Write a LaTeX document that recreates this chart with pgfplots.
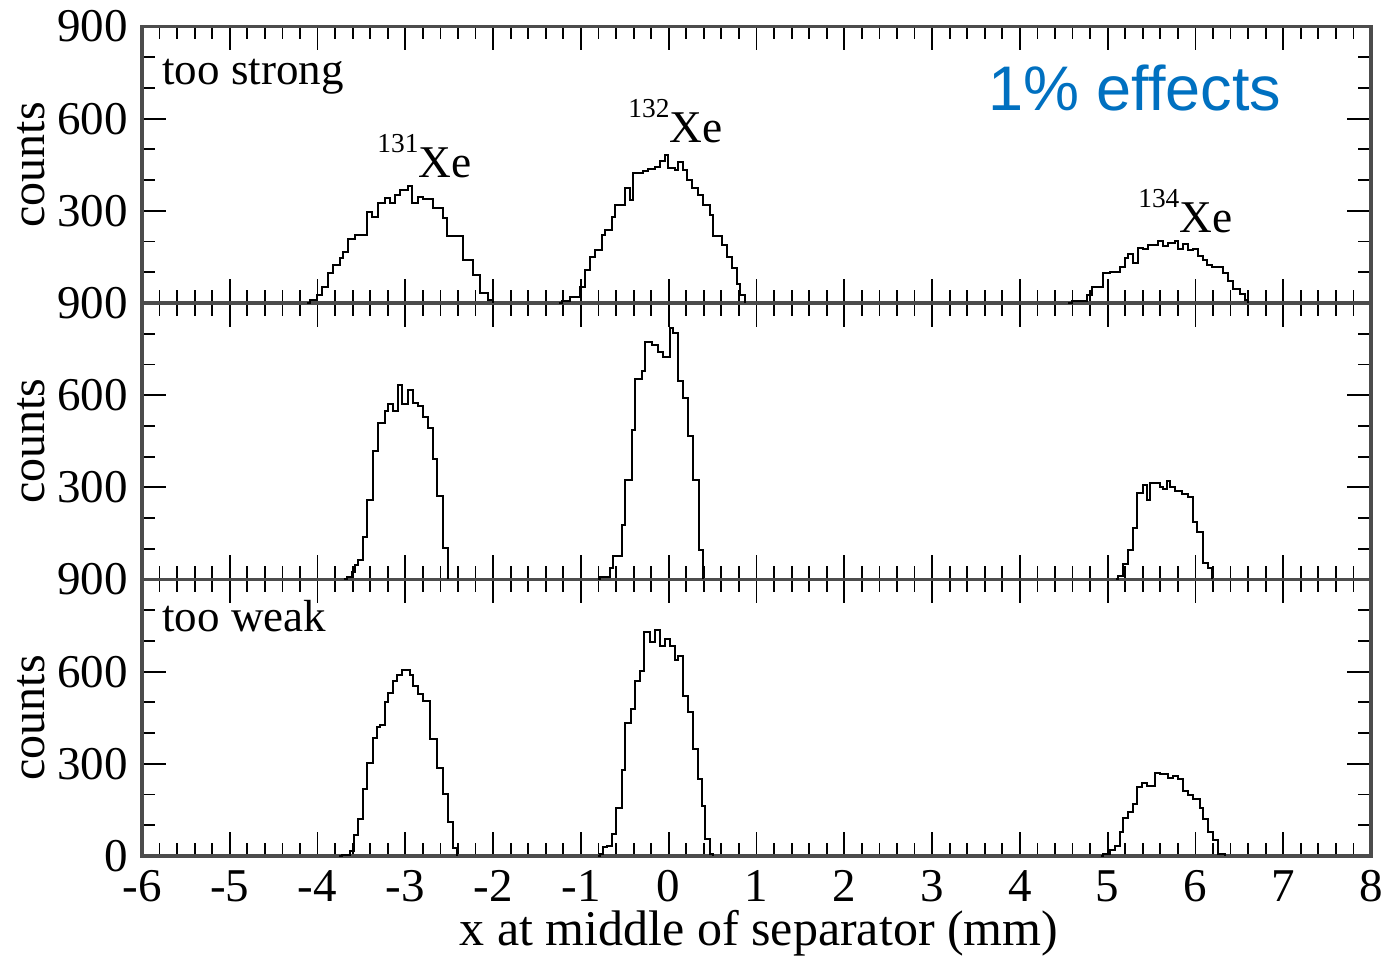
\documentclass[border=0pt]{standalone}
\usepackage{fontspec}
\setmainfont{Liberation Serif}
\newfontfamily\sansfont{Liberation Sans}
\usepackage{pgfplots}
\pgfplotsset{compat=1.18}
\definecolor{effblue}{RGB}{0,112,192}
\newcommand{\tickfont}{\fontsize{23.5}{26}\selectfont}
\newcommand{\labfont}{\fontsize{22.5}{26}\selectfont}
\newcommand{\iso}[1]{{\fontsize{13.7}{15}\selectfont\raisebox{12.5pt}{#1}}{\fontsize{22.7}{26}\selectfont Xe}}
\pgfplotsset{
  panel/.style={
    scale only axis, width=614.5pt, height=138.25pt,
    xmin=-6, xmax=8, ymin=0, ymax=900,
    xtick={-6,-5,-4,-3,-2,-1,0,1,2,3,4,5,6,7,8},
    minor x tick num=4,
    ytick={0,300,600,900}, minor y tick num=2,
    tick align=inside, major tick length=12pt, minor tick length=6.5pt,
    tick style={black, line width=0.9pt},
    axis line style={black!70, line width=1.7pt},
    tick label style={font=\tickfont},
    yticklabel style={anchor=east, inner sep=0pt, xshift=-7pt},
    xticklabel style={anchor=base, inner sep=0pt, yshift=-23pt},
    ylabel={counts},
    every axis y label/.style={at={(axis description cs:-0.0903,0.5)}, rotate=90, anchor=center, font=\fontsize{24}{26}\selectfont},
    clip=false,
  },
  hist/.style={const plot mark left, black, line width=1pt, mark=none},
}
\begin{document}
\begin{tikzpicture}
% ---------------- bottom panel: too weak
\begin{axis}[panel, at={(0pt,0pt)}, anchor=south west,
  xticklabels={-6,-5,-4,-3,-2,-1,0,1,2,3,4,5,6,7,8},
  yticklabels={0,300,600,900},
  xlabel={x at middle of separator (mm)},
  every axis x label/.style={at={(axis description cs:0.502,0)}, anchor=base, inner sep=0pt, yshift=-45pt, font=\fontsize{25}{28}\selectfont}]
\addplot[hist] coordinates {(-3.76,0) (-3.726,3) (-3.631,17) (-3.585,67) (-3.536,120) (-3.479,217) (-3.433,303) (-3.373,385) (-3.327,419) (-3.289,427) (-3.232,500) (-3.194,531) (-3.145,569) (-3.099,590) (-3.042,605) (-2.947,590) (-2.909,554) (-2.852,528) (-2.795,505) (-2.719,382) (-2.643,286) (-2.567,202) (-2.511,112) (-2.454,26) (-2.416,0)};
\addplot[hist] coordinates {(-0.80,0) (-0.783,6) (-0.745,28) (-0.707,34) (-0.650,73) (-0.601,157) (-0.536,281) (-0.498,432) (-0.430,480) (-0.384,569) (-0.327,601) (-0.278,730) (-0.213,696) (-0.156,737) (-0.099,685) (-0.042,707) (0.014,685) (0.071,637) (0.109,651) (0.166,522) (0.223,468) (0.280,348) (0.337,250) (0.375,163) (0.413,56) (0.470,6) (0.508,0)};
\addplot[hist] coordinates {(4.92,0) (4.951,7) (5.027,20) (5.083,33) (5.140,79) (5.178,124) (5.235,144) (5.292,170) (5.338,223) (5.387,236) (5.444,229) (5.539,271) (5.596,266) (5.691,253) (5.748,262) (5.805,249) (5.862,210) (5.919,197) (5.976,187) (6.052,157) (6.090,122) (6.147,79) (6.204,52) (6.261,7) (6.337,0)};
\node[anchor=base west, inner sep=0pt, font=\labfont] at (axis cs:-5.772,730) {too weak};
\end{axis}
% ---------------- middle panel
\begin{axis}[panel, at={(0pt,138.25pt)}, anchor=south west,
  xticklabels={}, yticklabels={,300,600,900}]
\addplot[hist] coordinates {(-3.70,0) (-3.669,8) (-3.612,25) (-3.574,47) (-3.536,64) (-3.479,139) (-3.433,258) (-3.365,417) (-3.308,510) (-3.232,549) (-3.194,571) (-3.137,549) (-3.080,632) (-3.042,571) (-2.966,618) (-2.909,573) (-2.852,564) (-2.795,529) (-2.738,493) (-2.681,392) (-2.643,271) (-2.575,101) (-2.511,0)};
\addplot[hist] coordinates {(-0.80,0) (-0.783,8) (-0.669,36) (-0.631,75) (-0.536,178) (-0.498,325) (-0.422,486) (-0.384,652) (-0.308,680) (-0.270,773) (-0.194,764) (-0.118,741) (-0.061,725) (0.014,820) (0.052,803) (0.109,646) (0.166,590) (0.223,467) (0.280,325) (0.349,97) (0.394,0)};
\addplot[hist] coordinates {(5.10,0) (5.121,11) (5.178,50) (5.235,96) (5.292,168) (5.338,280) (5.406,306) (5.452,258) (5.482,313) (5.596,300) (5.634,293) (5.680,320) (5.710,300) (5.767,289) (5.843,278) (5.919,267) (5.976,188) (6.021,155) (6.082,53) (6.147,37) (6.185,0)};
\end{axis}
% ---------------- top panel: too strong
\begin{axis}[panel, at={(0pt,276.5pt)}, anchor=south west,
  xticklabels={}, yticklabels={,300,600,900}]
\addplot[hist] coordinates {(-4.12,0) (-4.086,10) (-4.010,26) (-3.953,53) (-3.878,97) (-3.821,124) (-3.745,146) (-3.707,167) (-3.650,207) (-3.574,221) (-3.441,297) (-3.384,281) (-3.308,324) (-3.232,341) (-3.175,325) (-3.118,352) (-3.061,368) (-2.966,381) (-2.928,326) (-2.853,346) (-2.796,338) (-2.682,308) (-2.568,277) (-2.529,218) (-2.340,140) (-2.226,91) (-2.150,32) (-2.055,10) (-1.998,0)};
\addplot[hist] coordinates {(-1.25,0) (-1.220,5) (-1.125,21) (-1.011,53) (-0.954,107) (-0.897,149) (-0.840,173) (-0.764,221) (-0.726,238) (-0.650,281) (-0.612,319) (-0.498,373) (-0.441,335) (-0.403,422) (-0.289,431) (-0.232,435) (-0.157,444) (-0.100,463) (-0.043,482) (-0.005,438) (0.071,433) (0.109,460) (0.166,433) (0.204,400) (0.261,373) (0.337,352) (0.394,319) (0.470,287) (0.508,218) (0.603,189) (0.660,151) (0.717,113) (0.774,62) (0.812,26) (0.869,0)};
\addplot[hist] coordinates {(4.55,0) (4.590,7) (4.761,26) (4.818,53) (4.951,96) (5.027,101) (5.140,118) (5.197,148) (5.235,161) (5.292,131) (5.349,180) (5.406,175) (5.463,188) (5.577,203) (5.634,184) (5.691,196) (5.767,201) (5.805,177) (5.862,193) (5.919,171) (5.976,175) (6.033,154) (6.090,140) (6.128,125) (6.185,116) (6.318,98) (6.374,72) (6.431,46) (6.507,30) (6.564,9) (6.602,0)};
\node[anchor=base west, inner sep=0pt, font=\labfont] at (axis cs:-5.772,710) {too strong};
\node[anchor=base west, inner sep=0pt] at (axis cs:-3.323,410) {\iso{131}};
\node[anchor=base west, inner sep=0pt] at (axis cs:-0.464,521) {\iso{132}};
\node[anchor=base west, inner sep=0pt] at (axis cs:5.345,231) {\iso{134}};
\node[anchor=base west, inner sep=0pt, text=effblue, font=\sansfont\fontsize{31.5}{34}\selectfont] at (axis cs:3.637,625) {1\% effects};
\end{axis}
\pgfresetboundingbox
\path[use as bounding box] (-71pt,-51pt) rectangle (623.5pt,428pt);
\end{tikzpicture}
\end{document}
